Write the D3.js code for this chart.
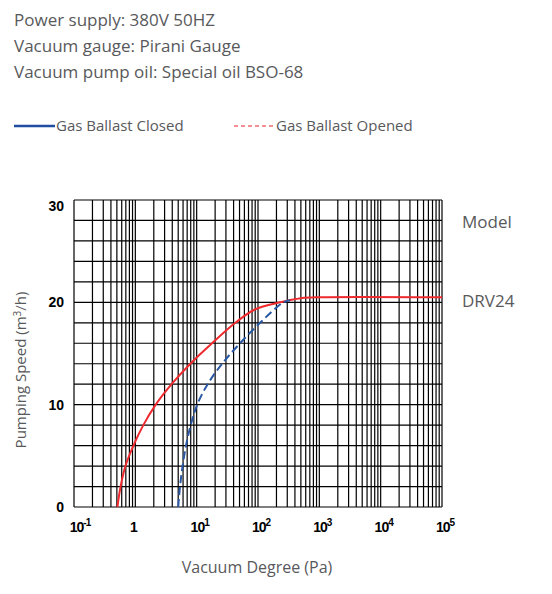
<!DOCTYPE html>
<html>
<head>
  <meta charset="utf-8">
  <script src="https://d3js.org/d3.v7.min.js"></script>
  <style>
    body { margin: 0; background: #fff; }
    .info { font-family: "Open Sans", sans-serif; fill: #58595b; }
    .tick-label { font-family: "Liberation Sans", Arial, sans-serif; font-weight: bold; fill: #000; }
    .grid line { stroke: #000; stroke-width: 1.2; }
  </style>
</head>
<body>
  <svg id="chart" width="552" height="594"></svg>

  <script>
    // header lines
    const infoLines = ['Power supply: 380V 50HZ', 'Vacuum gauge: Pirani Gauge', 'Vacuum pump oil: Special oil BSO-68'];

    // curve readings: pressure (Pa) vs pumping speed (m3/h)
    const openedP = [0.51, 0.575, 0.69, 0.93, 1.35, 2.15, 3.9, 7.9, 17.8, 42.7, 89, 229, 500, 1000, 100000];
    const openedS = [0, 2, 4, 6, 8, 10, 12, 14, 16, 18, 19.3, 20.0, 20.4, 20.5, 20.5];
    const closedP = [5.0, 5.35, 5.9, 6.7, 8.0, 10.2, 15.1, 26, 51, 108, 259, 333];
    const closedS = [0, 2, 4, 6, 8, 10, 12, 14, 16, 18, 20, 20.2];

    const yTicks = [0, 10, 20, 30];
    const xDecades = [-1, 0, 1, 2, 3, 4, 5];
    const legendNames = ['Gas Ballast Closed', 'Gas Ballast Opened'];

    const svg = d3.select('svg#chart');
    const margins = { top: 200, right: 110, bottom: 87, left: 74 };
    const chartWidth = 552 - margins.left - margins.right;
    const chartHeight = 594 - margins.top - margins.bottom;

    // header text
    svg.selectAll('text.head').data(infoLines).join('text')
      .attr('class', 'info')
      .attr('x', 14)
      .attr('y', (d, i) => 26 + i * 26)
      .attr('font-size', 17)
      .text(d => d);

    // legend
    svg.append('line').attr('x1', 14).attr('x2', 55).attr('y1', 126).attr('y2', 126)
      .attr('stroke', '#1f4ea3').attr('stroke-width', 2.5);
    svg.append('text').attr('class', 'info').attr('x', 56).attr('y', 131).attr('font-size', 15).text(legendNames[0]);
    svg.append('line').attr('x1', 234).attr('x2', 273).attr('y1', 126).attr('y2', 126)
      .attr('stroke', '#e5202a').attr('stroke-width', 1).attr('stroke-dasharray', '4,3');
    svg.append('text').attr('class', 'info').attr('x', 276).attr('y', 131).attr('font-size', 15).text(legendNames[1]);

    const chartArea = svg.append('g')
      .attr('transform', `translate(${margins.left},${margins.top})`);

    const xScale = d3.scaleLog().domain([0.1, 100000]).range([0, chartWidth]);
    const yScale = d3.scaleLinear().domain([0, 30]).range([chartHeight, 0]);

    // gridlines: every 2 units on y, 1..9 per decade on x
    const yGrid = d3.range(0, 31, 2);
    const xGrid = [];
    for (let e = -1; e < 5; e++) {
      for (let m = 1; m < 10; m++) xGrid.push(m * Math.pow(10, e));
    }
    xGrid.push(100000);

    const grid = chartArea.append('g').attr('class', 'grid');
    grid.selectAll('line.h').data(yGrid).join('line')
      .attr('x1', 0).attr('x2', chartWidth)
      .attr('y1', d => yScale(d)).attr('y2', d => yScale(d));
    grid.selectAll('line.v').data(xGrid).join('line')
      .attr('x1', d => xScale(d)).attr('x2', d => xScale(d))
      .attr('y1', 0).attr('y2', chartHeight);

    // curves
    const line = d3.line()
      .x(d => xScale(d[0]))
      .y(d => yScale(d[1]))
      .curve(d3.curveCatmullRom.alpha(0.5));

    chartArea.append('path')
      .datum(openedP.map((p, i) => [p, openedS[i]]))
      .attr('d', line)
      .attr('fill', 'none')
      .attr('stroke', '#ee2a2f')
      .attr('stroke-width', 2);

    chartArea.append('path')
      .datum(closedP.map((p, i) => [p, closedS[i]]))
      .attr('d', line)
      .attr('fill', 'none')
      .attr('stroke', '#2957a4')
      .attr('stroke-width', 2)
      .attr('stroke-dasharray', '8,4');

    // y tick labels ("30" sits a bit below the top edge)
    chartArea.selectAll('text.ytick').data(yTicks).join('text')
      .attr('class', 'tick-label')
      .attr('x', -10)
      .attr('y', d => yScale(d) + (d === 30 ? 11 : 5))
      .attr('text-anchor', 'end')
      .attr('font-size', 14)
      .text(d => d);

    // x tick labels (powers of ten)
    const xLab = chartArea.selectAll('text.xtick').data(xDecades).join('text')
      .attr('class', 'tick-label')
      .attr('x', d => xScale(Math.pow(10, d)) + (d === 0 ? -2 : (d === -1 ? 6 : 3)))
      .attr('y', chartHeight + 25)
      .attr('text-anchor', 'middle')
      .attr('font-size', 14)
      .attr('letter-spacing', -1);
    xLab.each(function (d) {
      const t = d3.select(this);
      if (d === 0) { t.text('1'); return; }
      t.append('tspan').text('10');
      t.append('tspan').attr('dy', -6).attr('font-size', 10).text(d);
    });

    // axis titles
    svg.append('text').attr('class', 'info')
      .attr('x', 257).attr('y', 573)
      .attr('text-anchor', 'middle').attr('font-size', 16)
      .text('Vacuum Degree (Pa)');

    const yTitle = svg.append('text').attr('class', 'info')
      .attr('transform', 'translate(26,370) rotate(-90)')
      .attr('text-anchor', 'middle').attr('font-size', 15);
    yTitle.append('tspan').text('Pumping Speed (m');
    yTitle.append('tspan').attr('dy', -5).attr('font-size', 10).text('3');
    yTitle.append('tspan').attr('dy', 5).text('/h)');

    // model labels
    svg.append('text').attr('class', 'info').attr('x', 462).attr('y', 228).attr('font-size', 17).text('Model');
    svg.append('text').attr('class', 'info').attr('x', 462).attr('y', 307).attr('font-size', 17).text('DRV24');
  </script>
</body>
</html>
